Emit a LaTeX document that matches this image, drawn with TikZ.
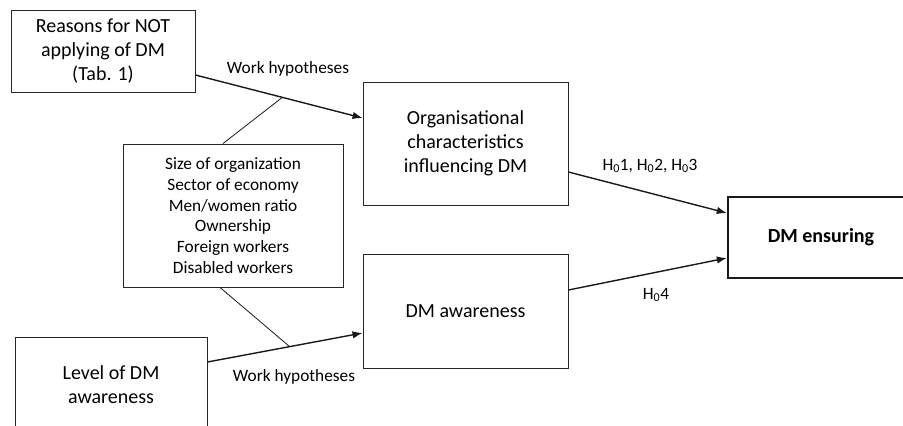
\documentclass[tikz,border=0pt]{standalone}
\usepackage{fontspec}
\setmainfont{Carlito}
\usetikzlibrary{arrows.meta}
\tikzset{
  box/.style={draw=black!85, line width=0.9pt, inner sep=0pt, align=center, font=\fontsize{20}{24}\selectfont},
  midbox/.style={draw=black!85, line width=0.9pt, inner sep=0pt, align=center, font=\fontsize{17.3}{20.7}\selectfont},
  thickbox/.style={draw=black!90, line width=2.4pt, inner sep=0pt, align=center, font=\fontsize{20}{24}\bfseries\selectfont},
  arr/.style={draw=black!90, line width=1.4pt, -{Latex[length=10pt,width=7.5pt]}},
  thin/.style={draw=black!90, line width=0.8pt},
  lbl/.style={inner sep=0pt, font=\fontsize{17.3}{20.7}\selectfont}
}
\begin{document}
\begin{tikzpicture}[x=1pt,y=-1pt]
\path[use as bounding box, clip] (0,0) rectangle (903,426);
\fill[white] (0,0) rectangle (903,426);
\node[box, minimum width=184pt, minimum height=82pt] (A) at (103,51) {Reasons for NOT\\applying of DM\\(Tab. 1)};
\node[box, minimum width=205pt, minimum height=123pt] (Org) at (465.5,143.5) {Organisational\\characteristics\\influencing DM};
\node[midbox, minimum width=220pt, minimum height=143pt] (Mid) at (233,215.5) {Size of organization\\Sector of economy\\Men/women ratio\\Ownership\\Foreign workers\\Disabled workers};
\node[box, minimum width=192pt, minimum height=96pt] (Lev) at (111,385) {Level of DM\\awareness};
\node[box, minimum width=205pt, minimum height=114pt] (DMa) at (465.5,311) {DM awareness};
\node[thickbox, minimum width=186pt, minimum height=81pt] (DMe) at (821,237.5) {DM ensuring};

\draw[arr] ([yshift=-24pt]A.east) -- coordinate[pos=0.52] (j1) ([yshift=25.5pt]Org.west);
\draw[thin] ([xshift=-10pt]Mid.north) -- (j1);
\draw[arr] ([yshift=23pt]Lev.east) -- coordinate[pos=0.53] (j2) ([yshift=-22pt]DMa.west);
\draw[thin] ([xshift=-13pt]Mid.south) -- (j2);
\draw[arr] ([yshift=-28.5pt]Org.east) -- ([yshift=24.5pt]DMe.west);
\draw[arr] ([yshift=21pt]DMa.east) -- ([yshift=-20.5pt]DMe.west);

\node[lbl] (l1) at (288,69) {Work hypotheses};
\node[lbl] (l2) at (294,377) {Work hypotheses};
\node[lbl] (l3) at (650,166) {H\textsubscript{0}1, H\textsubscript{0}2, H\textsubscript{0}3};
\node[lbl] (l4) at (656,295) {H\textsubscript{0}4};
\end{tikzpicture}
\end{document}
